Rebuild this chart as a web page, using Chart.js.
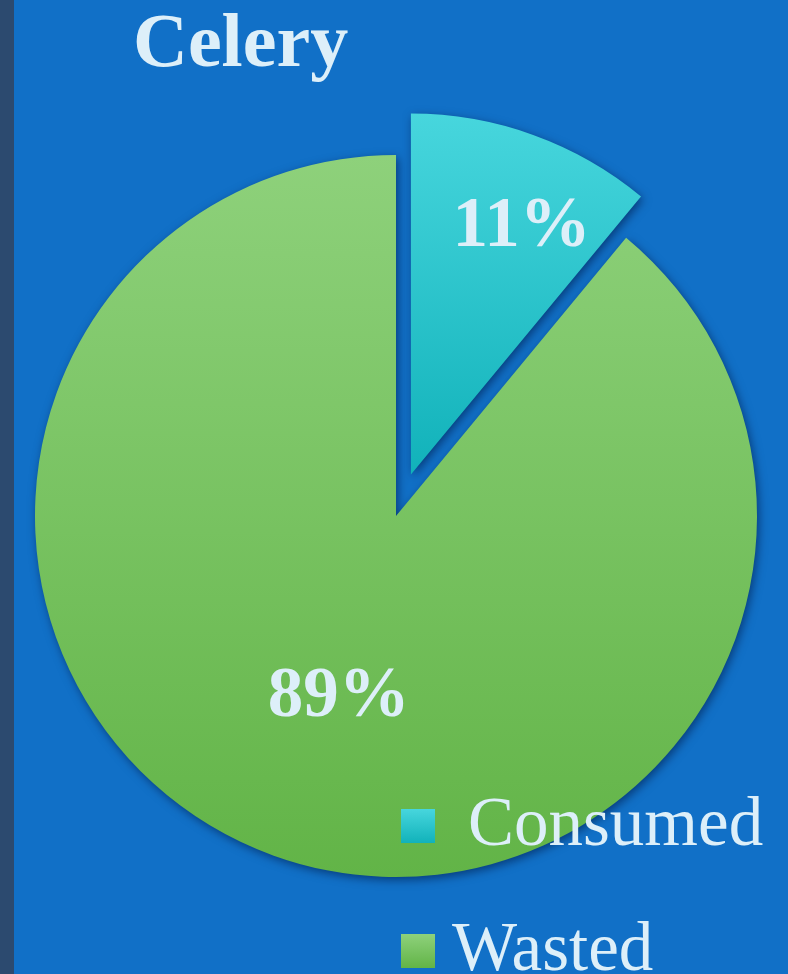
<!DOCTYPE html>
<html>
<head>
<meta charset="utf-8">
<script src="https://cdn.jsdelivr.net/npm/chart.js@4/dist/chart.umd.min.js"></script>
<style>
  html, body { margin: 0; padding: 0; }
  body { width: 788px; height: 974px; background: #1170c7; position: relative; overflow: hidden;
         font-family: "Liberation Serif", "DejaVu Serif", serif; color: #ddeff9; }
  #strip { position: absolute; left: 0; top: 0; width: 14px; height: 974px; background: #2c4a6f; }
  #wrap { position: absolute; left: 0; top: 0; width: 788px; height: 974px; }
  #title { position: absolute; left: 133px; top: 2px; font-size: 76px; font-weight: bold; line-height: 1; }
  .legend-item { position: absolute; left: 401px; font-size: 69px; line-height: 1; white-space: nowrap; }
  .legend-box { position: absolute; left: 0; width: 34px; height: 34px; }
  .legend-text { position: absolute; }
</style>
</head>
<body>
<div id="strip"></div>
<div id="wrap"><canvas id="pieChart"></canvas></div>
<div id="title"></div>
<div id="legend"></div>
<script>
// Chart data
const chartTitle = 'Celery';
const categories = ['Consumed', 'Wasted'];
const values = [11, 89];
const gradientTop = ['#47d6dd', '#8ed17b'];
const gradientBottom = ['#11b2ba', '#62b447'];

const EXPLODE = 44;               // how far the first slice is pulled out
const labelRadius = [0.75, 0.51]; // where the % label sits along the slice
const labelNudgeX = [19, 5];
const LABEL_DY = 8;

const total = values.reduce((a, b) => a + b, 0);

// mid angle of a slice, measured from 12 o'clock, clockwise
function midAngle(i) {
    let before = 0;
    for (let k = 0; k < i; k++) before += values[k];
    return ((before + values[i] / 2) / total) * Math.PI * 2;
}

/**
 * Vertical gradient for each slice
 */
function sliceFill(context) {
    const chart = context.chart;
    const area = chart.chartArea;
    const i = context.dataIndex;
    if (!area) return gradientTop[i];
    const r = Math.min(area.right - area.left, area.bottom - area.top) / 2;
    const cy = (area.top + area.bottom) / 2;
    let top = cy - r;
    let bottom = cy + r;
    if (i === 0) {
        const dy = -Math.cos(midAngle(0)) * EXPLODE;
        top = cy - r + dy;
        bottom = cy + dy;
    }
    const g = chart.ctx.createLinearGradient(0, top, 0, bottom);
    g.addColorStop(0, gradientTop[i]);
    g.addColorStop(1, gradientBottom[i]);
    return g;
}

// pull the first slice out along its mid angle
const explodePlugin = {
    id: 'explode',
    afterDatasetUpdate(chart, args) {
        const arc = args.meta.data[0];
        if (!arc) return;
        const a = (arc.startAngle + arc.endAngle) / 2;
        arc.x += Math.cos(a) * EXPLODE;
        arc.y += Math.sin(a) * EXPLODE;
    }
};

// drop shadow under the slices
const shadowPlugin = {
    id: 'sliceShadow',
    beforeDatasetsDraw(chart) {
        const ctx = chart.ctx;
        ctx.save();
        ctx.shadowColor = 'rgba(0, 25, 70, 0.6)';
        ctx.shadowBlur = 10;
        ctx.shadowOffsetX = 2;
        ctx.shadowOffsetY = 3;
    },
    afterDatasetsDraw(chart) {
        chart.ctx.restore();
    }
};

// percentage labels inside the slices
const percentPlugin = {
    id: 'percentLabels',
    afterDraw(chart) {
        const ctx = chart.ctx;
        const meta = chart.getDatasetMeta(0);
        ctx.save();
        ctx.fillStyle = '#ddeff9';
        ctx.font = 'bold 71px "Liberation Serif", "DejaVu Serif", serif';
        ctx.textAlign = 'center';
        ctx.textBaseline = 'middle';
        meta.data.forEach((arc, i) => {
            const a = (arc.startAngle + arc.endAngle) / 2;
            const rr = arc.outerRadius * labelRadius[i];
            const pct = Math.round(values[i] / total * 100) + '%';
            ctx.fillText(pct, arc.x + Math.cos(a) * rr + labelNudgeX[i], arc.y + Math.sin(a) * rr + LABEL_DY);
        });
        ctx.restore();
    }
};

const ctx = document.getElementById('pieChart');
new Chart(ctx, {
    type: 'pie',
    data: {
        labels: categories,
        datasets: [{
            data: values,
            backgroundColor: sliceFill,
            borderWidth: 0
        }]
    },
    options: {
        responsive: true,
        maintainAspectRatio: false,
        animation: false,
        layout: { padding: { left: 35, right: 31, top: 155, bottom: 97 } },
        plugins: {
            legend: { display: false },
            title: { display: false },
            tooltip: { enabled: false }
        }
    },
    plugins: [explodePlugin, shadowPlugin, percentPlugin]
});

// title and legend as page text
document.getElementById('title').textContent = chartTitle;
const legendTops = [809, 934];
const textLeft = [67, 51];
const legend = document.getElementById('legend');
categories.forEach((name, i) => {
    const item = document.createElement('div');
    item.className = 'legend-item';
    item.style.top = legendTops[i] + 'px';
    const box = document.createElement('div');
    box.className = 'legend-box';
    box.style.background = 'linear-gradient(' + gradientTop[i] + ', ' + gradientBottom[i] + ')';
    const text = document.createElement('div');
    text.className = 'legend-text';
    text.style.left = textLeft[i] + 'px';
    text.style.top = '-21px';
    text.textContent = name;
    item.appendChild(box);
    item.appendChild(text);
    legend.appendChild(item);
});
</script>
</body>
</html>
